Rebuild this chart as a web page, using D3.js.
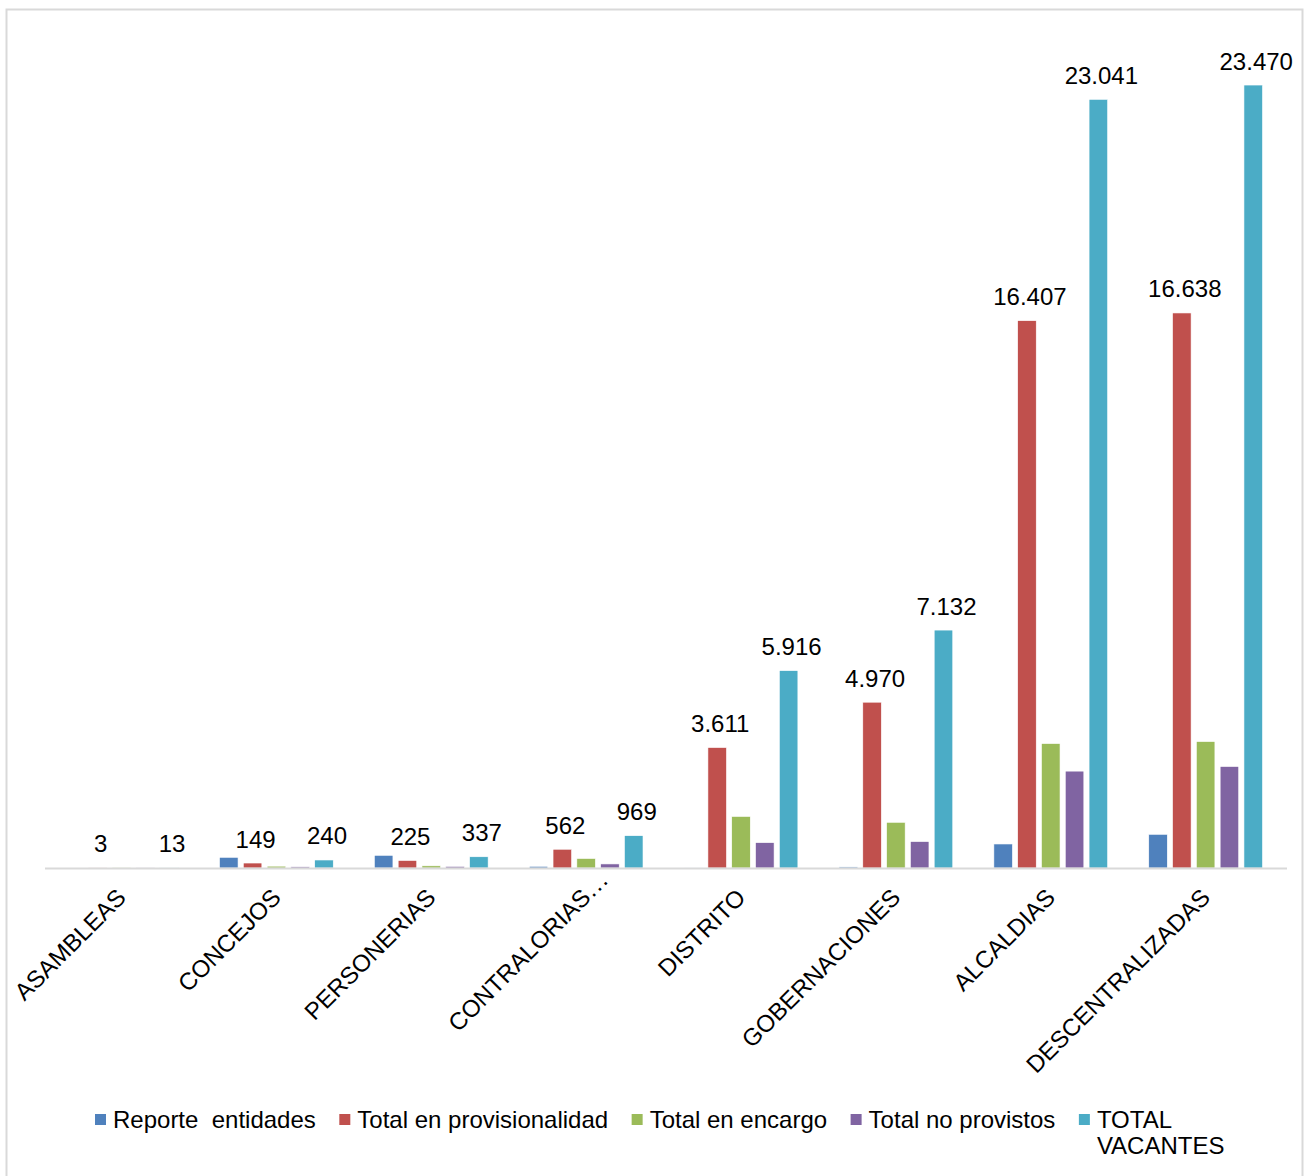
<!DOCTYPE html>
<html lang="es">
<head>
<meta charset="UTF-8">
<title>Vacantes por tipo de entidad</title>
<style>
  body { margin: 0; background: #fff; }
  svg text { font-family: "Liberation Sans", Arial, sans-serif; fill: #000; white-space: pre; }
</style>
<script src="https://d3js.org/d3.v7.min.js"></script>
</head>
<body>
<script>
// categories and series
const categories = ["ASAMBLEAS", "CONCEJOS", "PERSONERIAS", "CONTRALORIAS...",
                    "DISTRITO", "GOBERNACIONES", "ALCALDIAS", "DESCENTRALIZADAS"];
const seriesNames = ["Reporte  entidades", "Total en provisionalidad", "Total en encargo",
                     "Total no provistos", "TOTAL VACANTES"];
const reporteEntidades = [0, 320, 380, 50, 1, 32, 720, 1010];
const provisionalidad  = [3, 149, 225, 562, 3611, 4970, 16407, 16638];
const encargo          = [6, 55, 65, 285, 1545, 1370, 3730, 3790];
const noProvistos      = [4, 36, 47, 122, 760, 792, 2904, 3042];
const totalVacantes    = [13, 240, 337, 969, 5916, 7132, 23041, 23470];
const labelledSeries   = [1, 4]; // only these carry data labels
const colors = ["#4F81BD", "#C0504D", "#9BBB59", "#8064A2", "#4BACC6"];

const width = 1309, height = 1176;
const seriesValues = [reporteEntidades, provisionalidad, encargo, noProvistos, totalVacantes];

const svg = d3.select("body").append("svg")
    .attr("width", width)
    .attr("height", height);

// outer frame
svg.append("rect")
    .attr("x", 6.5).attr("y", 9.5)
    .attr("width", 1296).attr("height", 1180)
    .attr("fill", "#fff")
    .attr("stroke", "#d9d9d9")
    .attr("stroke-width", 2);

const x0 = d3.scaleBand()
    .domain(categories)
    .range([44, 1283]);

const x1 = d3.scaleBand()
    .domain(d3.range(seriesNames.length))
    .range([18, 137])
    .paddingInner(0.22)
    .paddingOuter(0.11);

const y = d3.scaleLinear()
    .domain([0, 25000])
    .range([868, 34]);

const fmt = d3.formatLocale({ decimal: ",", thousands: ".", grouping: [3], currency: ["", ""] }).format(",d");

const groups = svg.selectAll(".grp")
    .data(categories)
    .join("g")
    .attr("class", "grp")
    .attr("transform", d => `translate(${x0(d)},0)`);

groups.selectAll("rect")
    .data((c, i) => seriesValues.map((vals, s) => ({ s, v: vals[i] })))
    .join("rect")
    .attr("x", d => x1(d.s))
    .attr("width", x1.bandwidth())
    .attr("y", d => y(d.v))
    .attr("height", d => y(0) - y(d.v))
    .attr("fill", d => colors[d.s])
    .attr("stroke", "#fff")
    .attr("stroke-width", 0.6);

groups.selectAll("text.lbl")
    .data((c, i) => labelledSeries.map(s => ({ s, v: seriesValues[s][i] })))
    .join("text")
    .attr("class", "lbl")
    .attr("x", d => x1(d.s) + x1.bandwidth() / 2 + 3)
    .attr("y", d => y(d.v) - 15.5)
    .attr("text-anchor", "middle")
    .attr("font-size", 24)
    .text(d => fmt(d.v));

// category axis line (runs a little past the last group, as in the original)
svg.append("line")
    .attr("x1", 45).attr("x2", 1287)
    .attr("y1", y(0) + 0.5).attr("y2", y(0) + 0.5)
    .attr("stroke", "#d9d9d9")
    .attr("stroke-width", 2);

// rotated category labels; a truncated name keeps its dots past the anchor
const cat = svg.selectAll(".cat")
    .data(categories)
    .join("g")
    .attr("class", "cat")
    .attr("transform", d => `translate(${x0(d) + x0.bandwidth() / 2 + 6},${y(0) + 31}) rotate(-45)`);

cat.append("text")
    .attr("text-anchor", "end")
    .attr("font-size", 24)
    .text(d => d.replace(/\.\.\.$/, ""));

cat.filter(d => d.endsWith("..."))
    .append("text")
    .attr("x", 1)
    .attr("font-size", 24)
    .attr("letter-spacing", 1.5)
    .text("...");

// legend
const legend = svg.append("g").attr("transform", "translate(95,1128)");
let lx = 0;
seriesNames.forEach((name, i) => {
    const g = legend.append("g").attr("transform", `translate(${lx},0)`);
    g.append("rect")
        .attr("x", 0).attr("y", -14)
        .attr("width", 11).attr("height", 11)
        .attr("fill", colors[i]);
    const t = g.append("text")
        .attr("x", 18)
        .attr("font-size", 24);
    if (i === seriesNames.length - 1) {
        const parts = name.split(" ");
        t.append("tspan").attr("x", 18).attr("dy", 0).text(parts[0]);
        t.append("tspan").attr("x", 18).attr("dy", 26).text(parts[1]);
    } else {
        t.text(name);
    }
    lx += 18 + t.node().getComputedTextLength() + 23.5;
});
</script>
</body>
</html>
